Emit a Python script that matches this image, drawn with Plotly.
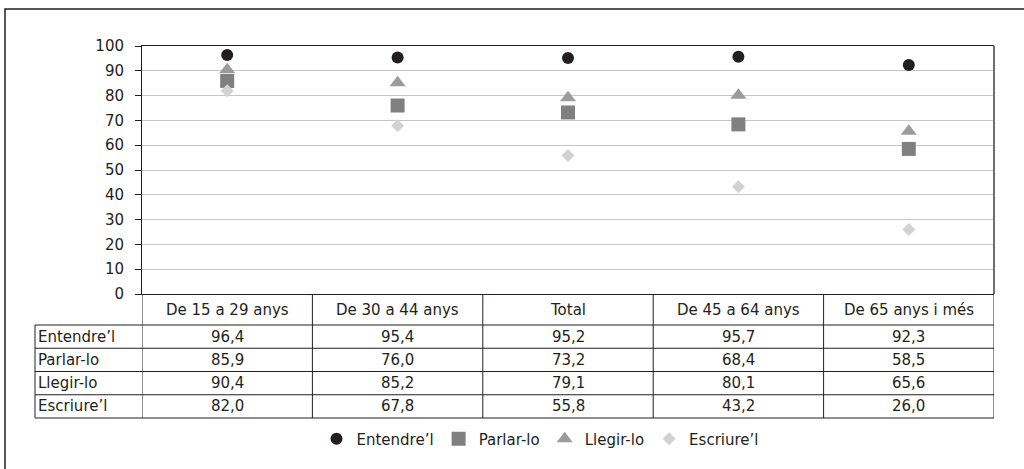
import plotly.graph_objects as go

categories = ["De 15 a 29 anys", "De 30 a 44 anys", "Total", "De 45 a 64 anys", "De 65 anys i més"]
series_names = ["Entendre’l", "Parlar-lo", "Llegir-lo", "Escriure’l"]
entendre = [96.4, 95.4, 95.2, 95.7, 92.3]
parlar = [85.9, 76.0, 73.2, 68.4, 58.5]
llegir = [90.4, 85.2, 79.1, 80.1, 65.6]
escriure = [82.0, 67.8, 55.8, 43.2, 26.0]
y_ticks = [0, 10, 20, 30, 40, 50, 60, 70, 80, 90, 100]

series_values = [entendre, parlar, llegir, escriure]
symbols = ["circle", "square", "triangle-up", "diamond"]
colors = ["#231f20", "#808080", "#9b9b9b", "#d2d2d2"]
sizes = [12, 14, 14, 10]

W, H = 1024, 469
ML, MR, MT, MB = 142, 30, 46, 175
PW = W - ML - MR
PH = H - MT - MB

def px_to_py(py):
    return (H - MB - py) / PH

def px_to_px(px):
    return (px - ML) / PW

FONT = "DejaVu Sans"
FS = 15
TXT = "#231f20"

fig = go.Figure()
for name, vals, sym, col, sz in zip(series_names, series_values, symbols, colors, sizes):
    fig.add_trace(go.Scatter(
        x=categories, y=vals, mode="markers", name=name,
        marker=dict(symbol=sym, color=col, size=sz, line=dict(width=0)),
        cliponaxis=False,
    ))

shapes = []
annotations = []

# table geometry (pixels)
row_edges_px = [H - MB, 325, 348.25, 371.5, 394.75, 418]
table_left_px = 35
tl = px_to_px(table_left_px)
line_style = dict(color="#231f20", width=1)

for j in range(len(categories) + 1):
    shapes.append(dict(type="line", xref="x", yref="paper", x0=j - 0.5, x1=j - 0.5,
                       y0=0, y1=px_to_py(row_edges_px[-1]), line=line_style))
shapes.append(dict(type="line", xref="paper", yref="paper", x0=tl, x1=tl,
                   y0=px_to_py(row_edges_px[1]), y1=px_to_py(row_edges_px[-1]), line=line_style))
for e in row_edges_px[1:]:
    shapes.append(dict(type="line", xref="paper", yref="paper", x0=tl, x1=1,
                       y0=px_to_py(e), y1=px_to_py(e), line=line_style))

hc = (row_edges_px[0] + row_edges_px[1]) / 2
for c in categories:
    annotations.append(dict(x=c, y=px_to_py(hc), xref="x", yref="paper", text=c, showarrow=False,
                            xanchor="center", yanchor="middle", font=dict(family=FONT, size=FS, color=TXT)))
for i, (name, vals) in enumerate(zip(series_names, series_values)):
    cy = (row_edges_px[i + 1] + row_edges_px[i + 2]) / 2
    annotations.append(dict(x=px_to_px(table_left_px + 1), y=px_to_py(cy), xref="paper", yref="paper",
                            text=name, showarrow=False, xanchor="left", yanchor="middle",
                            font=dict(family=FONT, size=FS, color=TXT)))
    for c, v in zip(categories, vals):
        annotations.append(dict(x=c, y=px_to_py(cy), xref="x", yref="paper",
                                text=f"{v:.1f}".replace(".", ","), showarrow=False,
                                xanchor="center", yanchor="middle",
                                font=dict(family=FONT, size=FS, color=TXT)))

shapes.append(dict(type="line", xref="paper", yref="paper", x0=1, x1=1, y0=0, y1=1,
                   line=dict(color="#6e6e6e", width=2)))
shapes.append(dict(type="rect", xref="paper", yref="paper",
                   x0=px_to_px(5), x1=px_to_px(1040), y0=px_to_py(490), y1=px_to_py(9),
                   line=dict(color="#231f20", width=1.5), fillcolor="rgba(0,0,0,0)", layer="below"))

fig.update_layout(
    width=W, height=H,
    margin=dict(l=ML, r=MR, t=MT, b=MB),
    paper_bgcolor="white", plot_bgcolor="white",
    font=dict(family=FONT, size=FS, color=TXT),
    showlegend=True,
    legend=dict(orientation="h", x=px_to_px(540), y=px_to_py(439), xanchor="center", yanchor="middle",
                font=dict(family=FONT, size=FS, color=TXT), itemwidth=30, tracegroupgap=0,
                bgcolor="rgba(0,0,0,0)"),
    xaxis=dict(type="category", range=[-0.5, len(categories) - 0.5], showticklabels=False, showgrid=False,
               ticks="", showline=True, linecolor="#231f20", linewidth=1, mirror=True, zeroline=False,
               fixedrange=True),
    yaxis=dict(range=[0, 100], tickvals=y_ticks, ticktext=[str(v) for v in y_ticks],
               showgrid=True, gridcolor="#c6c6c6", gridwidth=1,
               ticks="outside", ticklen=6, tickcolor="#231f20", tickwidth=1,
               showline=True, linecolor="#231f20", linewidth=1, mirror=False, zeroline=False,
               ticklabelstandoff=8, tickfont=dict(family=FONT, size=FS, color=TXT)),
    shapes=shapes,
    annotations=annotations,
)

fig.write_html("out.html", config={"displayModeBar": False},
               post_script="document.body.style.margin='0px';")
